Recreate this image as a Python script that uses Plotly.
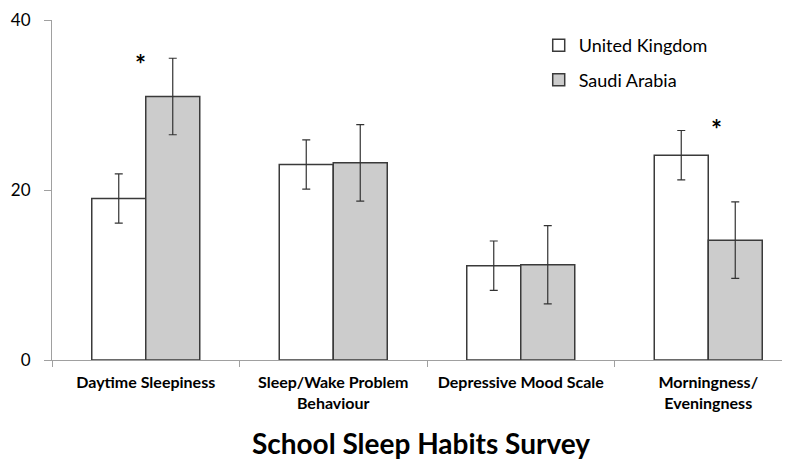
import plotly.graph_objects as go

categories = ["Daytime Sleepiness", "Sleep/Wake Problem<br>Behaviour",
              "Depressive Mood Scale", "Morningness/<br>Eveningness"]
uk_values = [19.0, 23.0, 11.1, 24.1]
uk_errors = [2.9, 2.9, 2.9, 2.9]
sa_values = [31.0, 23.2, 11.2, 14.1]
sa_errors = [4.5, 4.5, 4.6, 4.5]
significance = ["*", "", "", "*"]
y_ticks = [0, 20, 40]

FONT = "Lato"
EDGE = "#3a3a3a"
ERR = "#333333"

fig = go.Figure()
fig.add_trace(go.Bar(
    name="United Kingdom", x=categories, y=uk_values, legendgroup="uk",
    marker=dict(color="white", line=dict(color=EDGE, width=1.5)),
    error_y=dict(type="data", array=uk_errors, color=ERR, thickness=1.2, width=4),
))
fig.add_trace(go.Bar(
    name="Saudi Arabia", x=categories, y=sa_values, legendgroup="sa",
    marker=dict(color="#cccccc", line=dict(color=EDGE, width=1.5)),
    error_y=dict(type="data", array=sa_errors, color=ERR, thickness=1.2, width=4),
))

sig_xshift = [-5, 0, 0, 8]
sig_yshift = [-6, 0, 0, 2]
for i, s in enumerate(significance):
    if s:
        top = max(uk_values[i] + uk_errors[i], sa_values[i] + sa_errors[i])
        fig.add_annotation(x=categories[i], y=top, text="<b>" + s + "</b>",
                           showarrow=False, yanchor="middle", yshift=sig_yshift[i],
                           xshift=sig_xshift[i],
                           font=dict(family=FONT, size=26, color="black"))

fig.update_layout(
    width=790, height=461,
    margin=dict(l=44, r=8, t=12, b=109, autoexpand=False),
    paper_bgcolor="white", plot_bgcolor="white",
    barmode="group", bargap=0.424, bargroupgap=0,
    font=dict(family=FONT, color="black"),
    showlegend=True,
    legend=dict(x=0.6595, y=0.979, xanchor="left", yanchor="top",
                font=dict(family=FONT, size=18, color="black"),
                bgcolor="rgba(0,0,0,0)", tracegroupgap=8, traceorder="grouped"),
    title=dict(text="<b>School Sleep Habits Survey</b>", x=0.5, xref="paper",
               xanchor="center", y=(461 - 436) / 461, yanchor="middle",
               yref="container", automargin=False,
               font=dict(family=FONT, size=28, color="black")),
)
fig.update_xaxes(
    type="category", range=[-0.5, 3.436], tickson="boundaries",
    ticks="outside", ticklen=6, tickcolor="#a0a0a0",
    showline=True, linecolor="#a0a0a0", linewidth=1,
    showgrid=False, automargin=False, ticklabelstandoff=8,
    tickfont=dict(family=FONT, size=16, color="black"),
    tickprefix="<b>", ticksuffix="</b>",
)
fig.update_yaxes(
    range=[0, 40], tickvals=y_ticks, ticks="outside", ticklen=7, tickcolor="#a0a0a0",
    showline=True, linecolor="#a0a0a0", linewidth=1, showgrid=False, zeroline=False,
    automargin=False,
    tickfont=dict(family=FONT, size=17, color="black"), ticklabelstandoff=10,
)

fig.write_html("out.html")
